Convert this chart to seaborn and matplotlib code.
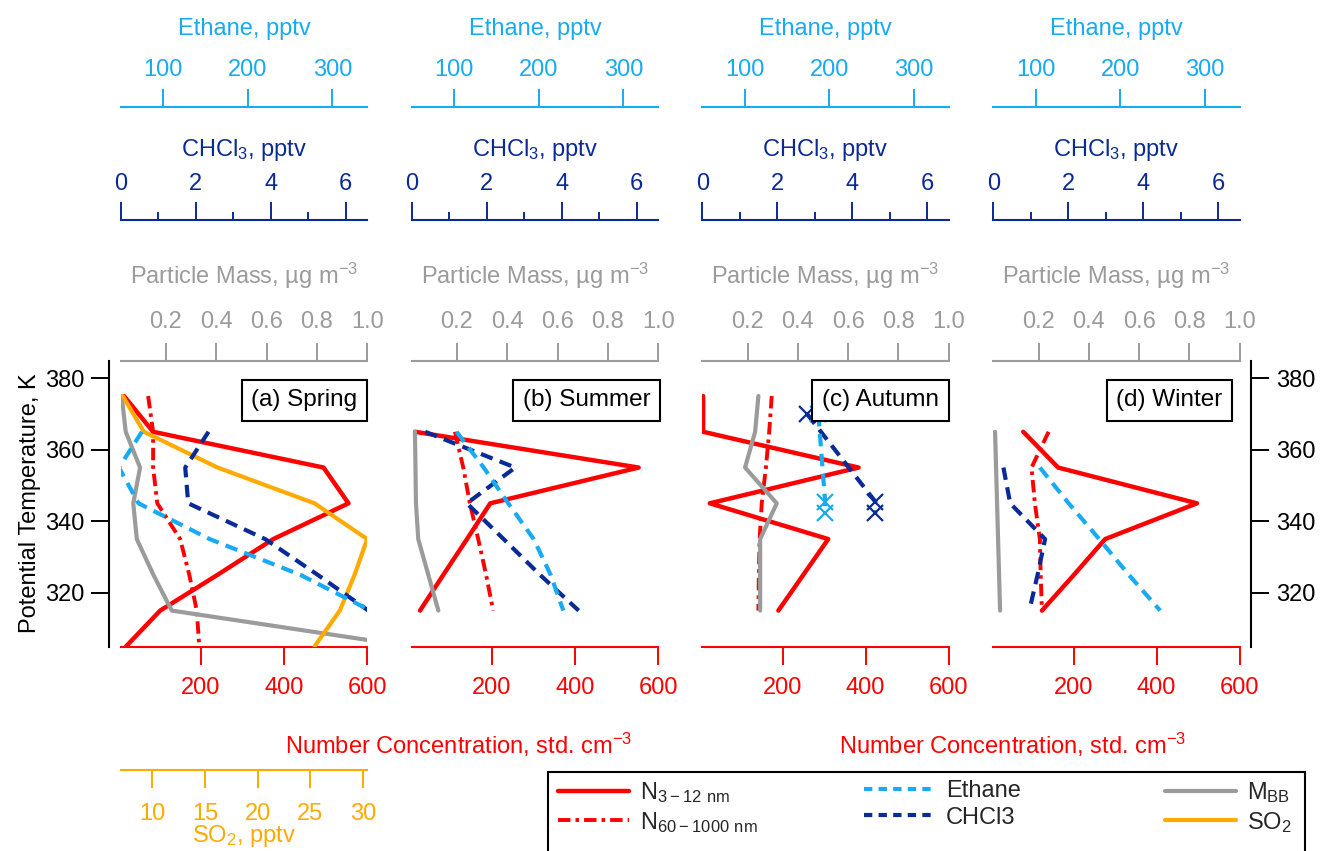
import matplotlib
matplotlib.use("Agg")
import matplotlib.pyplot as plt
from matplotlib.lines import Line2D
from matplotlib.patches import Rectangle
import seaborn as sns

# ---------------- data ----------------
seasons = ["(a) Spring", "(b) Summer", "(c) Autumn", "(d) Winter"]

# Spring
sp_T = [375, 365, 355, 345, 335, 325, 315, 305]
sp_n312 = [15, 85, 495, 555, 374, 240, 102, 20]
sp_n60 = [73, 85, 85, 95, 150, 172, 190, 196]
sp_mbb = [0.024, 0.04, 0.097, 0.07, 0.084, 0.15, 0.223, 1.17]
sp_so2 = [7.2, 9.2, 16.2, 25.4, 30.4, 29.2, 27.8, 25.4]
sp_gas_T = [365, 355, 345, 335, 325, 315]
sp_ethane = [75, 48, 71, 155, 262, 345]
sp_chcl3 = [2.34, 1.72, 1.80, 3.85, 5.25, 6.6]

# Summer
su_T = [365, 355, 345, 335, 325, 315]
su_n312 = [15, 553, 196, 140, 83, 27]
su_n60 = [111, 131, 147, 167, 186, 203]
su_mbb = [0.033, 0.035, 0.037, 0.046, 0.086, 0.126]
su_gas_T = [365, 355, 345, 335, 325, 315]
su_ethane = [103, 135, 164, 194, 214, 229]
su_chcl3 = [0.36, 2.76, 1.47, 2.45, 3.42, 4.45]

# Autumn
au_T = [375, 365, 355, 345, 335, 325, 315]
au_n312 = [9, 9, 383, 25, 310, 250, 190]
au_n60 = [174, 168, 160, 150, 145, 143, 142]
au_mbb = [0.243, 0.23, 0.19, 0.316, 0.25, 0.25, 0.25]
au_gas_T = [370, 345.5, 342.2]
au_ethane = [187, 195, 195]
au_chcl3 = [2.79, 4.61, 4.61]

# Winter
wi_T = [365, 355, 345, 335, 325, 315]
wi_n312 = [79, 163, 497, 276, 201, 124]
wi_n60 = [140, 99, 107, 119, 121, 124]
wi_mbb = [0.027, 0.031, 0.035, 0.039, 0.043, 0.047]
wi_gas_T = [355, 345, 335, 325, 315]
wi_ethane = [105, 139, 175, 210, 247]
wi_chcl3 = [0.27, 0.45, 1.38, 1.18, 0.96]

panels = [
    dict(T=sp_T, n312=sp_n312, n60=sp_n60, mbb=sp_mbb, so2=sp_so2,
         gT=sp_gas_T, eth=sp_ethane, chc=sp_chcl3, mark=False),
    dict(T=su_T, n312=su_n312, n60=su_n60, mbb=su_mbb, so2=None,
         gT=su_gas_T, eth=su_ethane, chc=su_chcl3, mark=False),
    dict(T=au_T, n312=au_n312, n60=au_n60, mbb=au_mbb, so2=None,
         gT=au_gas_T, eth=au_ethane, chc=au_chcl3, mark=True),
    dict(T=wi_T, n312=wi_n312, n60=wi_n60, mbb=wi_mbb, so2=None,
         gT=wi_gas_T, eth=wi_ethane, chc=wi_chcl3, mark=False),
]

n_ticks = [200, 400, 600]
pm_ticks = [0.2, 0.4, 0.6, 0.8, 1.0]
ch_ticks = [0, 2, 4, 6]
ch_minor = [1, 3, 5]
eth_ticks = [100, 200, 300]
so2_ticks = [10, 15, 20, 25, 30]
y_ticks = [320, 340, 360, 380]

# ---------------- style ----------------
RED = "#FF0000"
LBLUE = "#18AAF2"
DBLUE = "#0A2A96"
GRAY = "#9B9B9B"
ORANGE = "#FFAA00"

sns.set_theme(style="ticks")
plt.rcParams["font.family"] = ["Liberation Sans", "DejaVu Sans"]
plt.rcParams["mathtext.default"] = "regular"
FS = 17

W, H = 1324, 851
fig = plt.figure(figsize=(W / 100, H / 100), dpi=100)


def fx(px):
    return px / W


def fy(py):
    return 1 - py / H


lefts = [120.7, 411.7, 702.3, 993.3]
pw = 246.5
top_px, bot_px = 361, 646.7
TL, TW = 13, 1.4


def style_axis(a, color, which, ticks, labels=None, minor=None, pos=None, lim=None, pad=9):
    for s in a.spines.values():
        s.set_visible(False)
    sp = a.spines[which]
    sp.set_visible(True)
    sp.set_color(color)
    sp.set_linewidth(1.5)
    if pos is not None:
        sp.set_position(("outward", pos))
    a.set_xlim(*lim)
    a.set_xticks(ticks)
    if labels is not None:
        a.set_xticklabels(labels)
    if minor is not None:
        a.set_xticks(minor, minor=True)
    a.tick_params(axis="x", which="major", direction="out", length=TL, width=TW,
                  color=color, labelcolor=color, labelsize=FS, pad=pad)
    a.tick_params(axis="x", which="minor", direction="out", length=6, width=TW,
                  color=color)
    if which == "top":
        a.xaxis.set_ticks_position("top")
        a.xaxis.set_label_position("top")
    else:
        a.xaxis.set_ticks_position("bottom")
        a.xaxis.set_label_position("bottom")


def draw(a, x, y, color, ls="-", lw=3.0, marker=None):
    sns.lineplot(x=x, y=y, ax=a, sort=False, estimator=None, orient="y",
                 color=color, linewidth=lw, linestyle=ls, marker=marker,
                 markersize=11, markeredgewidth=1.6, markeredgecolor=color)


DASH_N60 = (0, (3.2, 1.3, 0.9, 1.3))
DASH_GAS = (0, (3.0, 1.8))
box_x = [0.961, 0.969, 0.961, 0.930]

for i, p in enumerate(panels):
    ax = fig.add_axes([fx(lefts[i]), fy(bot_px), fx(pw), (bot_px - top_px) / H])
    ax.patch.set_visible(False)
    ylim = (304.9, 384.8)

    # number concentration (main axes)
    draw(ax, p["n312"], p["T"], RED, "-", 3.2)
    draw(ax, p["n60"], p["T"], RED, DASH_N60, 2.8)
    style_axis(ax, RED, "bottom", n_ticks, [str(t) for t in n_ticks], lim=(7, 600))
    ax.set_ylim(*ylim)
    ax.set_xlabel("")
    ax.set_ylabel("")
    ax.set_yticks(y_ticks)
    if i == 0:
        ax.spines["left"].set_visible(True)
        ax.spines["left"].set_color("black")
        ax.spines["left"].set_linewidth(1.5)
        ax.spines["left"].set_position(("outward", 8.2))
        ax.yaxis.set_ticks_position("left")
        ax.tick_params(axis="y", direction="out", length=TL, width=TW,
                       labelsize=FS, pad=5, colors="black")
    elif i == 3:
        ax.spines["right"].set_visible(True)
        ax.spines["right"].set_color("black")
        ax.spines["right"].set_linewidth(1.5)
        ax.spines["right"].set_position(("outward", 7.9))
        ax.yaxis.set_ticks_position("right")
        ax.tick_params(axis="y", direction="out", length=TL, width=TW,
                       labelsize=FS, pad=5, colors="black")
    else:
        ax.tick_params(axis="y", left=False, right=False,
                       labelleft=False, labelright=False)

    # particle mass
    apm = ax.twiny()
    draw(apm, p["mbb"], p["T"], GRAY, "-", 3.0)
    style_axis(apm, GRAY, "top", pm_ticks, [f"{t:.1f}" for t in pm_ticks],
               lim=(0.02, 1.0), pad=7.5)
    apm.set_xlabel("Particle Mass, \u00b5g m$^{-3}$", fontsize=FS, color=GRAY, labelpad=19.5)
    apm.set_ylim(*ylim)

    # SO2 (spring only)
    if p["so2"] is not None:
        aso = ax.twiny()
        draw(aso, p["so2"], p["T"], ORANGE, "-", 3.0)
        style_axis(aso, ORANGE, "bottom", so2_ticks, [str(t) for t in so2_ticks],
                   pos=88.8, lim=(7, 30.4), pad=11)
        aso.set_xlabel("SO$_2$, pptv", fontsize=FS, color=ORANGE, labelpad=-1.5)
        aso.set_ylim(*ylim)

    # CHCl3
    ach = ax.twiny()
    draw(ach, p["chc"], p["gT"], DBLUE, DASH_GAS, 3.0,
         marker="x" if p["mark"] else None)
    style_axis(ach, DBLUE, "top", ch_ticks, [str(t) for t in ch_ticks],
               minor=ch_minor, pos=101.5, lim=(0, 6.57), pad=4.7)
    ach.set_xlabel("CHCl$_3$, pptv", fontsize=FS, color=DBLUE, labelpad=12.5)
    ach.set_ylim(*ylim)

    # Ethane
    aet = ax.twiny()
    draw(aet, p["eth"], p["gT"], LBLUE, DASH_GAS, 3.0,
         marker="x" if p["mark"] else None)
    style_axis(aet, LBLUE, "top", eth_ticks, [str(t) for t in eth_ticks],
               pos=182.9, lim=(50, 341), pad=6)
    aet.set_xlabel("Ethane, pptv", fontsize=FS, color=LBLUE, labelpad=17)
    aet.set_ylim(*ylim)

    for a in [ax, apm, ach, aet]:
        a.set_ylabel("")

    # season label box
    aet.text(box_x[i], 0.9006, seasons[i], transform=ax.transAxes, ha="right", va="top",
             fontsize=17.5, color="black", zorder=10,
             bbox=dict(boxstyle="square,pad=0.4", fc="white", ec="black", lw=1.5))

# global labels
fig.text(fx(30), fy(503), "Potential Temperature, K", rotation=90,
         ha="center", va="center", fontsize=FS, color="black")
for cx in [459, 1013]:
    fig.text(fx(cx), fy(745), "Number Concentration, std. cm$^{-3}$",
             ha="center", va="center", fontsize=FS, color=RED)

# legend: three columns with equal widths inside one frame
handles = [
    Line2D([], [], color=RED, lw=3.2, ls="-"),
    Line2D([], [], color=RED, lw=2.8, ls=DASH_N60),
    Line2D([], [], color=LBLUE, lw=3.0, ls=(0, (2.0, 1.5))),
    Line2D([], [], color=DBLUE, lw=3.0, ls=(0, (2.0, 1.5))),
    Line2D([], [], color=GRAY, lw=3.0, ls="-"),
    Line2D([], [], color=ORANGE, lw=3.0, ls="-"),
]
labels = ["N$_{3-12\\ nm}$", "N$_{60-1000\\ nm}$", "Ethane", "CHCl3",
          "M$_{BB}$", "SO$_2$"]
fig.add_artist(Rectangle((fx(548), fy(880)), fx(1305 - 548), (880 - 772) / H,
                         transform=fig.transFigure, fill=False, ec="black",
                         lw=1.5, clip_on=False))
col_x = [558, 864, 1165]
for c in range(3):
    fig.legend(handles[2 * c:2 * c + 2], labels[2 * c:2 * c + 2], loc="upper left",
               bbox_to_anchor=(fx(col_x[c]), fy(780)), frameon=False,
               fontsize=FS, handlelength=3.0, handletextpad=0.47,
               borderpad=0, borderaxespad=0, labelspacing=0.2)

fig.savefig("out.png", dpi=100)
